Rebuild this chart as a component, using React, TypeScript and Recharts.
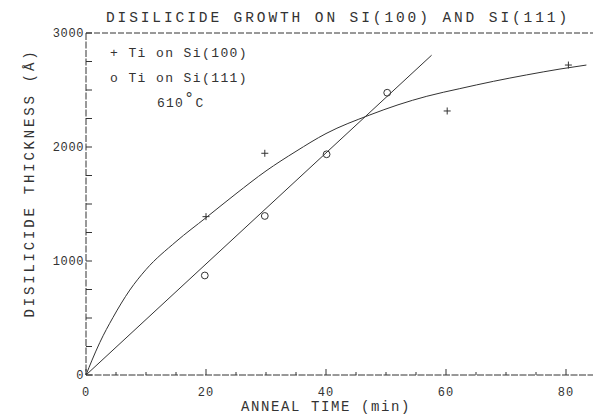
import React from 'react';
import {
  ComposedChart, Line, Scatter, XAxis, YAxis, ReferenceLine
} from 'recharts';

// values
const si100Points = [
  { x: 20, y: 1389 },
  { x: 29.8, y: 1945 },
  { x: 60.2, y: 2316 },
  { x: 80.4, y: 2719 },
];

const si111Points = [
  { x: 19.8, y: 873 },
  { x: 29.8, y: 1395 },
  { x: 40.1, y: 1936 },
  { x: 50.2, y: 2476 },
];

// hand-drawn fit through the Si(100) data
const si100Curve = [
  { x: 0, y: 0 },
  { x: 1, y: 130 },
  { x: 2.3, y: 285 },
  { x: 4.5, y: 505 },
  { x: 7.3, y: 745 },
  { x: 10, y: 925 },
  { x: 15, y: 1170 },
  { x: 20, y: 1380 },
  { x: 25, y: 1590 },
  { x: 30, y: 1790 },
  { x: 35, y: 1962 },
  { x: 40, y: 2118 },
  { x: 47.3, y: 2281 },
  { x: 52, y: 2370 },
  { x: 56.8, y: 2445 },
  { x: 62.3, y: 2512 },
  { x: 67.9, y: 2576 },
  { x: 73.4, y: 2632 },
  { x: 79, y: 2684 },
  { x: 83.4, y: 2719 },
];

// linear fit through the Si(111) data
const si111Line = [
  { x: 0, y: 0 },
  { x: 57.6, y: 2805 },
];

const xTicks = [0, 5, 10, 15, 20, 25, 30, 35, 40, 45, 50, 55, 60, 65, 70, 75, 80];
const yTicks = [0, 250, 500, 750, 1000, 1250, 1500, 1750, 2000, 2250, 2500, 2750, 3000];

const INK = '#333';
const FONT = '"Liberation Mono", "DejaVu Sans Mono", monospace';

const XTick = ({ x, y, payload }: any) => {
  const major = payload.value % 20 === 0;
  return (
    <g>
      <line x1={x} y1={y} x2={x} y2={y - (major ? 6 : 3)} stroke={INK} strokeWidth={1} />
      {major && (
        <text x={x} y={y + 21} textAnchor="middle" fill={INK}
          style={{ fontFamily: FONT, fontSize: 12, letterSpacing: 1 }}>
          {payload.value}
        </text>
      )}
    </g>
  );
};

const YTick = ({ x, y, payload }: any) => {
  const major = payload.value % 1000 === 0;
  return (
    <g>
      <line x1={x} y1={y} x2={x + 6} y2={y} stroke={INK} strokeWidth={1} />
      {major && (
        <text x={x - 2} y={y + 4} textAnchor="end" fill={INK}
          style={{ fontFamily: FONT, fontSize: 12, letterSpacing: 0.6 }}>
          {payload.value}
        </text>
      )}
    </g>
  );
};

const PlusMark = ({ cx, cy }: any) => (
  <g stroke={INK} strokeWidth={1}>
    <line x1={cx - 3.5} y1={cy} x2={cx + 3.5} y2={cy} />
    <line x1={cx} y1={cy - 3.5} x2={cx} y2={cy + 3.5} />
  </g>
);

const CircleMark = ({ cx, cy }: any) => (
  <circle cx={cx} cy={cy} r={3.4} fill="none" stroke={INK} strokeWidth={1} />
);

const textStyle: React.CSSProperties = {
  position: 'absolute',
  fontFamily: FONT,
  color: INK,
  whiteSpace: 'nowrap',
  lineHeight: 1,
};

export default function App() {
  return (
    <div style={{ position: 'fixed', left: 0, top: 0, width: 596, height: 417, background: '#fff' }}>
      <ComposedChart width={596} height={417} margin={{ top: 33, right: 3, bottom: 0, left: 0 }}>
        <XAxis
          dataKey="x"
          type="number"
          domain={[0, 84.5]}
          ticks={xTicks}
          interval={0}
          height={42}
          tickSize={0}
          tickMargin={0}
          tickLine={false}
          tick={<XTick />}
          axisLine={{ stroke: INK, strokeDasharray: '7 1.5' }}
        />
        <YAxis
          type="number"
          domain={[0, 3000]}
          ticks={yTicks}
          interval={0}
          width={86}
          tickSize={0}
          tickMargin={0}
          tickLine={false}
          tick={<YTick />}
          axisLine={{ stroke: INK, strokeDasharray: '7 1.5' }}
        />
        <ReferenceLine y={3000} stroke={INK} strokeDasharray="6 2" />
        <Line data={si100Curve} dataKey="y" type="monotone" stroke={INK} strokeWidth={1}
          dot={false} activeDot={false} isAnimationActive={false} />
        <Line data={si111Line} dataKey="y" type="linear" stroke={INK} strokeWidth={1}
          dot={false} activeDot={false} isAnimationActive={false} />
        <Scatter data={si100Points} dataKey="y" shape={<PlusMark />} isAnimationActive={false} />
        <Scatter data={si111Points} dataKey="y" shape={<CircleMark />} isAnimationActive={false} />
      </ComposedChart>

      <div style={{ ...textStyle, left: 338, top: 11, transform: 'translateX(-50%)', fontSize: 14.5, letterSpacing: 2.9 }}>
        DISILICIDE GROWTH ON SI(100) AND SI(111)
      </div>
      <div style={{ ...textStyle, left: 30, top: 183, transform: 'translate(-50%, -50%) rotate(-90deg)', fontSize: 14, letterSpacing: 2.8 }}>
        DISILICIDE THICKNESS (Å)
      </div>
      <div style={{ ...textStyle, left: 326, top: 400, transform: 'translateX(-50%)', fontSize: 14, letterSpacing: 1.6 }}>
        ANNEAL TIME (min)
      </div>

      <div style={{ ...textStyle, left: 110, top: 47, fontSize: 13, letterSpacing: 1.4 }}>+ Ti on Si(100)</div>
      <div style={{ ...textStyle, left: 110, top: 72, fontSize: 13, letterSpacing: 1.4 }}>o Ti on Si(111)</div>
      <div style={{ ...textStyle, left: 157, top: 97, fontSize: 13, letterSpacing: 1.2 }}>
        610<span style={{ position: 'relative', top: -4, fontSize: 17, lineHeight: 0 }}>°</span>C
      </div>
    </div>
  );
}
